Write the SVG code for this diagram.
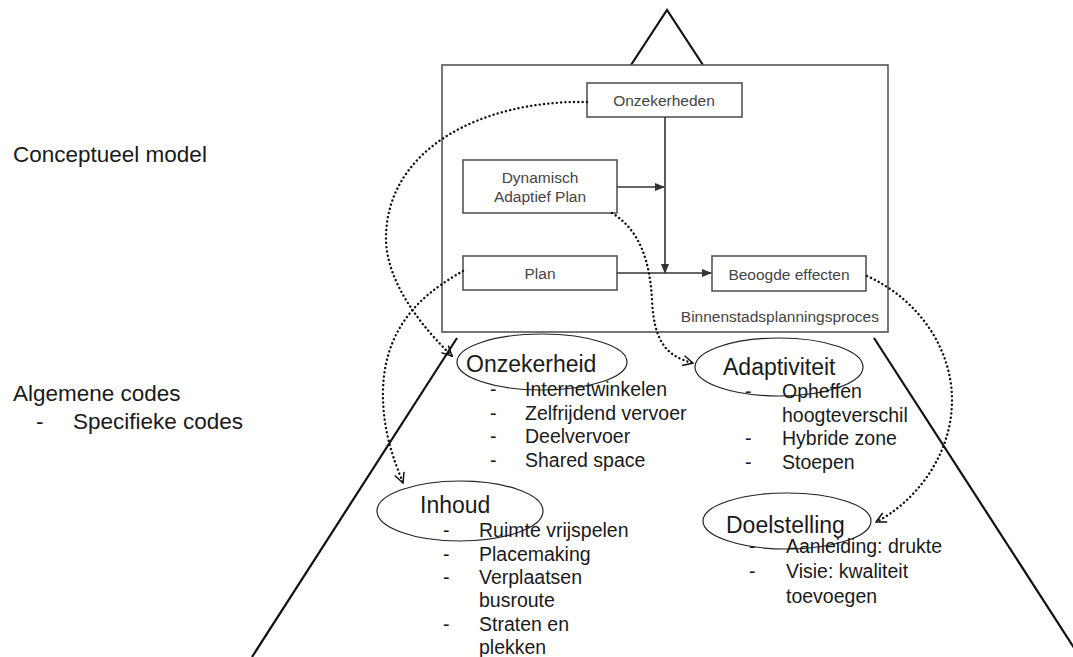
<svg xmlns="http://www.w3.org/2000/svg" width="1073" height="657" viewBox="0 0 1073 657">
<style>
.box{fill:#fff;stroke:#555;stroke-width:1.6}
.btxt{font-family:"Liberation Sans",Arial,sans-serif;font-size:15.5px;fill:#444;text-anchor:middle}
.ell{fill:none;stroke:#222;stroke-width:1.2}
.etxt{font-family:"Liberation Sans",Arial,sans-serif;font-size:23px;fill:#1a1a1a}
.ltxt{font-family:"Liberation Sans",Arial,sans-serif;font-size:19.5px;fill:#1a1a1a}
.side{font-family:"Liberation Sans",Arial,sans-serif;font-size:22.5px;fill:#1a1a1a}
.tri{fill:none;stroke:#111;stroke-width:2.2}
.solid{fill:none;stroke:#333;stroke-width:1.6}
.dot{fill:none;stroke:#111;stroke-width:2.4;stroke-dasharray:0.1 4.2;stroke-linecap:round}
</style>
<defs>
<marker id="fill" viewBox="0 0 10 10" refX="9" refY="5" markerWidth="10" markerHeight="10" markerUnits="userSpaceOnUse" orient="auto">
<path d="M0,1 L10,5 L0,9 Z" fill="#333"/>
</marker>
<marker id="open" viewBox="0 0 12 12" refX="11" refY="6" markerWidth="12" markerHeight="12" markerUnits="userSpaceOnUse" orient="auto">
<path d="M1,1 L11,6 L1,11" fill="none" stroke="#111" stroke-width="1.5"/>
</marker>
</defs>
<rect width="1073" height="657" fill="#fff"/>

<g id="side-labels">
<text class="side" x="13" y="162">Conceptueel model</text>
<text class="side" x="13" y="401">Algemene codes</text>
<text class="side" x="36" y="429">-</text>
<text class="side" x="73" y="429">Specifieke codes</text>
</g>

<g id="triangle">
<path class="tri" d="M631,65 L667,10 L703,65"/>
<path class="tri" d="M457,338 L252,657"/>
<path class="tri" d="M874,338 L1080,657"/>
</g>

<g id="process-frame">
<rect class="box" x="442" y="65" width="446" height="267"/>
<text class="btxt" x="879" y="322" style="text-anchor:end">Binnenstadsplanningsproces</text>
</g>

<g id="node-onzekerheden">
<rect class="box" x="587" y="83" width="155" height="34"/>
<text class="btxt" x="664" y="106">Onzekerheden</text>
</g>
<g id="node-dap">
<rect class="box" x="463" y="160" width="154" height="53"/>
<text class="btxt" x="540" y="183">Dynamisch</text>
<text class="btxt" x="540" y="202">Adaptief Plan</text>
</g>
<g id="node-plan">
<rect class="box" x="463" y="256" width="154" height="34"/>
<text class="btxt" x="540" y="279">Plan</text>
</g>
<g id="node-beoogde">
<rect class="box" x="712" y="256" width="154" height="35"/>
<text class="btxt" x="789" y="280">Beoogde effecten</text>
</g>

<g id="connectors">
<path class="solid" d="M665,117 L665,273" marker-end="url(#fill)"/>
<path class="solid" d="M617,187 L664,187" marker-end="url(#fill)"/>
<path class="solid" d="M617,273 L711,273" marker-end="url(#fill)"/>
<path class="dot" d="M587,102 C480,100 385,150 386,240 C387,282 420,325 452,356" marker-end="url(#open)"/>
<path class="dot" d="M463,271 C430,290 385,320 383,390 C382,430 394,460 403,483" marker-end="url(#open)"/>
<path class="dot" d="M612,213 C640,230 650,262 652,300 C654,340 665,356 693,363" marker-end="url(#open)"/>
<path class="dot" d="M867,276 C920,300 952,350 952,400 C952,460 910,505 876,522" marker-end="url(#open)"/>
</g>

<g id="node-onzekerheid">
<ellipse class="ell" cx="542" cy="362" rx="85" ry="28"/>
<text class="etxt" x="466" y="372">Onzekerheid</text>
<text class="ltxt" x="490" y="396">-</text><text class="ltxt" x="525" y="396">Internetwinkelen</text>
<text class="ltxt" x="490" y="420">-</text><text class="ltxt" x="525" y="420">Zelfrijdend vervoer</text>
<text class="ltxt" x="490" y="443">-</text><text class="ltxt" x="525" y="443">Deelvervoer</text>
<text class="ltxt" x="490" y="467">-</text><text class="ltxt" x="525" y="467">Shared space</text>
</g>

<g id="node-adaptiviteit">
<ellipse class="ell" cx="779" cy="367" rx="84" ry="29"/>
<text class="etxt" x="723" y="375">Adaptiviteit</text>
<text class="ltxt" x="745" y="398">-</text><text class="ltxt" x="782" y="398">Opheffen</text>
<text class="ltxt" x="782" y="422">hoogteverschil</text>
<text class="ltxt" x="745" y="445">-</text><text class="ltxt" x="782" y="445">Hybride zone</text>
<text class="ltxt" x="745" y="469">-</text><text class="ltxt" x="782" y="469">Stoepen</text>
</g>

<g id="node-inhoud">
<ellipse class="ell" cx="460" cy="511" rx="83" ry="30"/>
<text class="etxt" x="420" y="513">Inhoud</text>
<text class="ltxt" x="443" y="537">-</text><text class="ltxt" x="479" y="537">Ruimte vrijspelen</text>
<text class="ltxt" x="443" y="561">-</text><text class="ltxt" x="479" y="561">Placemaking</text>
<text class="ltxt" x="443" y="584">-</text><text class="ltxt" x="479" y="584">Verplaatsen</text>
<text class="ltxt" x="479" y="607">busroute</text>
<text class="ltxt" x="443" y="631">-</text><text class="ltxt" x="479" y="631">Straten en</text>
<text class="ltxt" x="479" y="654">plekken</text>
</g>

<g id="node-doelstelling">
<ellipse class="ell" cx="787" cy="521" rx="84" ry="28"/>
<text class="etxt" x="726" y="533">Doelstelling</text>
<text class="ltxt" x="749" y="553">-</text><text class="ltxt" x="786" y="553">Aanleiding: drukte</text>
<text class="ltxt" x="749" y="578">-</text><text class="ltxt" x="786" y="578">Visie: kwaliteit</text>
<text class="ltxt" x="786" y="603">toevoegen</text>
</g>
</svg>
